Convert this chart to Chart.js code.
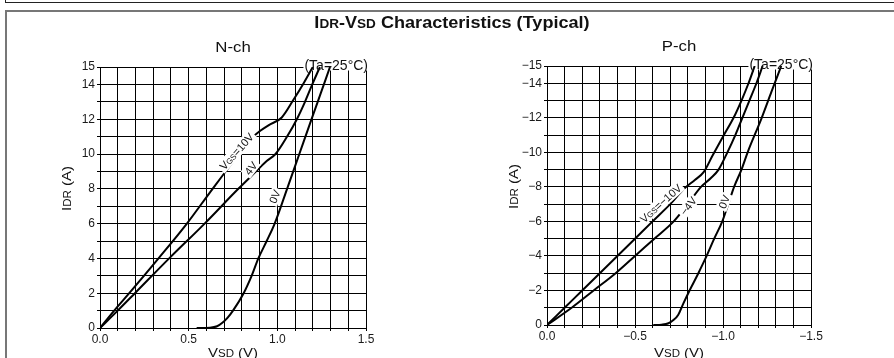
<!DOCTYPE html>
<html>
<head>
<meta charset="utf-8">
<script src="https://cdn.jsdelivr.net/npm/chart.js@4.4.1/dist/chart.umd.min.js"></script>
<style>
  body { margin: 0; background: #fff; width: 894px; height: 358px; overflow: hidden; position: relative; font-family: "Liberation Sans", Arial, sans-serif; }
  canvas { position: absolute; top: 0; }
  #nch { left: 0; }
  #pch { left: 447px; }
  .frame-top { position: absolute; left: 5px; top: -10px; right: -5px; height: 12px; border-left: 1px solid #222; border-bottom: 1px solid #222; }
  .frame { position: absolute; left: 5px; top: 10px; right: -5px; bottom: -5px; border-left: 2px solid #777; border-top: 2px solid #777; }
  #title { position: absolute; left: 5px; top: 15px; width: 894px; text-align: center; font-weight: bold; font-size: 16px; line-height: 16px; transform: scaleX(1.13); color: #111; }
  #title span { font-size: 12px; }
</style>
</head>
<body>
<div class="frame-top"></div>
<div class="frame"></div>
<canvas id="nch" width="447" height="358"></canvas>
<canvas id="pch" width="447" height="358"></canvas>
<div id="title">I<span>DR</span>-V<span>SD</span> Characteristics (Typical)</div>
<script>
const FONT = '"Liberation Sans", Arial, sans-serif';

// N-ch curves, VSD (V) vs IDR (A)
const nVsd10 = [0, 0.08, 0.165, 0.33, 0.49, 0.635, 0.785, 0.875, 0.95, 1.025, 1.09, 1.15, 1.2];
const nIdr10 = [0, 1, 2, 4, 6, 8, 10, 11.1, 11.65, 12.1, 13.1, 14.1, 15];
const nVsd4 = [0, 0.1, 0.197, 0.39, 0.59, 0.78, 0.88, 0.94, 0.99, 1.055, 1.11, 1.156, 1.197, 1.24];
const nIdr4 = [0, 1, 2, 4, 6, 8, 9, 9.6, 10, 11, 12, 13, 14, 15];
const nVsd0 = [0.545, 0.62, 0.66, 0.69, 0.72, 0.75, 0.81, 0.855, 0.893, 0.94, 0.985, 1.055, 1.124, 1.193, 1.245, 1.297];
const nIdr0 = [0, 0.02, 0.1, 0.3, 0.6, 1, 2, 3, 4, 5, 6, 8, 10, 12, 13.5, 15];

// P-ch curves
const pVsd10 = [0, -0.1, -0.2, -0.3, -0.4, -0.5, -0.6, -0.7, -0.78, -0.84, -0.89, -0.94, -1.005, -1.06, -1.105, -1.145, -1.18];
const pIdr10 = [0, -1, -2, -3, -4, -5, -6, -7, -7.9, -8.4, -8.85, -9.8, -11, -12, -13, -14, -15];
const pVsd4 = [0, -0.14, -0.265, -0.39, -0.5, -0.61, -0.72, -0.8, -0.875, -0.93, -0.975, -1.025, -1.07, -1.11, -1.15, -1.19, -1.225];
const pIdr4 = [0, -1, -2, -3, -4, -5, -6, -7, -8, -8.5, -9, -10, -11, -12, -13, -14, -15];
const pVsd0 = [-0.604, -0.65, -0.69, -0.72, -0.746, -0.775, -0.81, -0.86, -0.907, -0.95, -0.996, -1.03, -1.063, -1.105, -1.14, -1.22, -1.275, -1.331];
const pIdr0 = [0, -0.02, -0.1, -0.3, -0.6, -1.25, -2, -3, -4, -5, -6, -7, -8, -9, -10, -12, -13.5, -15];

// labelled ticks
const nXTicks = [0, 0.5, 1.0, 1.5];
const nYTicks = [0, 2, 4, 6, 8, 10, 12, 14, 15];
const pXTicks = [0, -0.5, -1.0, -1.5];
const pYTicks = [0, -2, -4, -6, -8, -10, -12, -14, -15];

// curve labels (placed in data units)
const nLabels = [
  { runs: [['V', 11], ['GS', 8], ['=10V', 11]], x: 0.77, y: 10.15, angle: -48 },
  { runs: [['4V', 11]], x: 0.85, y: 9.18, angle: -52 },
  { runs: [['0V', 11]], x: 0.985, y: 7.55, angle: -67 }
];
const pLabels = [
  { runs: [['V', 11], ['GS', 8], ['=\u221210V', 11]], x: -0.646, y: -7.05, angle: -42 },
  { runs: [['\u22124V', 11]], x: -0.803, y: -6.89, angle: -53 },
  { runs: [['0V', 11]], x: -1.006, y: -7.14, angle: -68 }
];

const pts = (xs, ys) => xs.map((x, i) => ({ x: x, y: ys[i] }));

function fmt(v, digits) {
  if (Math.abs(v) < 1e-9) return digits ? (0).toFixed(digits) : '0';
  const s = Math.abs(v).toFixed(digits);
  return v < 0 ? '\u2212' + s : s;
}
function pick(list, digits) {
  return v => list.some(t => Math.abs(t - v) < 1e-6) ? fmt(v, digits) : '';
}

function drawRuns(ctx, runs, x, y, o) {
  ctx.save();
  ctx.translate(x, y);
  ctx.rotate((o.angle || 0) * Math.PI / 180);
  ctx.scale(o.stretch || 1, 1);
  const ws = runs.map(r => { ctx.font = r[1] + 'px ' + FONT; return ctx.measureText(r[0]).width; });
  const total = ws.reduce((a, b) => a + b, 0);
  let cx = o.align === 'right' ? -total : o.align === 'left' ? 0 : -total / 2;
  const big = Math.max(...runs.map(r => r[1]));
  const cap = big * 0.72;
  const base = o.center ? cap / 2 : 0;
  if (o.bg) {
    ctx.fillStyle = '#fff';
    ctx.fillRect(cx - o.bg, base - cap - o.bg, total + 2 * o.bg, cap + 2 * o.bg);
  }
  if (!o.bgOnly) {
    ctx.fillStyle = '#111';
    ctx.textBaseline = 'alphabetic';
    runs.forEach((r, i) => {
      ctx.font = r[1] + 'px ' + FONT;
      ctx.fillText(r[0], cx, base);
      cx += ws[i];
    });
  }
  ctx.restore();
}

const TA = [['(Ta=25\u00b0C)', 14]];

const annotPlugin = {
  id: 'annot',
  beforeDatasetsDraw(chart, args, o) {
    const a = chart.chartArea;
    drawRuns(chart.ctx, TA, a.right + 2, a.top + 2.5, { align: 'right', bg: 1, bgOnly: true });
  },
  afterDatasetsDraw(chart, args, o) {
    const a = chart.chartArea, ctx = chart.ctx;
    const xs = chart.scales.x, ys = chart.scales.y;
    o.labels.forEach(l => {
      drawRuns(ctx, l.runs, xs.getPixelForValue(l.x), ys.getPixelForValue(l.y),
        { angle: l.angle, center: true, bg: 2 });
    });
    drawRuns(ctx, TA, a.right + 2, a.top + 2.5, { align: 'right' });
    drawRuns(ctx, [[o.sub, 14]], (a.left + a.right) / 2, a.top - 15, { stretch: 1.2 });
    drawRuns(ctx, [['V', 13], ['SD', 10], [' (V)', 13]], (a.left + a.right) / 2, chart.height - 1, { stretch: 1.15 });
    drawRuns(ctx, [['I', 13], ['DR', 10], [' (A)', 13]], a.left - 29, (a.top + a.bottom) / 2 - 9, { stretch: 1.15, angle: -90 });
  }
};

function makeChart(id, c) {
  const tickFont = { family: FONT, size: 12 };
  return new Chart(document.getElementById(id), {
    type: 'line',
    data: {
      datasets: c.series.map(s => ({
        data: pts(s[0], s[1]),
        borderColor: '#000',
        borderWidth: 2,
        pointRadius: 0,
        fill: false,
        cubicInterpolationMode: 'monotone'
      }))
    },
    options: {
      responsive: false,
      animation: false,
      events: [],
      layout: { padding: c.pad },
      plugins: { legend: { display: false }, tooltip: { enabled: false }, annot: c.annot },
      scales: {
        x: {
          type: 'linear', min: c.xMin, max: c.xMax, reverse: c.rev,
          afterFit: s => { s.height = c.xh; },
          ticks: { stepSize: 0.1, autoSkip: false, maxRotation: 0, padding: 1, color: '#1a1a1a', font: tickFont, callback: pick(c.xTicks, 1) },
          grid: { color: '#000', lineWidth: 1, tickLength: 3 },
          border: { color: '#000', width: 1 }
        },
        y: {
          type: 'linear', min: c.yMin, max: c.yMax, reverse: c.rev,
          afterFit: s => { s.width = 100; },
          ticks: { stepSize: 1, autoSkip: false, padding: 2, color: '#1a1a1a', font: tickFont, callback: pick(c.yTicks, 0) },
          grid: { color: '#000', lineWidth: 1, tickLength: 3 },
          border: { color: '#000', width: 1 }
        }
      }
    },
    plugins: [annotPlugin]
  });
}

makeChart('nch', {
  series: [[nVsd10, nIdr10], [nVsd4, nIdr4], [nVsd0, nIdr0]],
  xMin: 0, xMax: 1.5, yMin: 0, yMax: 15, rev: false,
  xTicks: nXTicks, yTicks: nYTicks,
  pad: { left: 0, top: 67, right: 81, bottom: 0 }, xh: 30,
  annot: { sub: 'N-ch', labels: nLabels }
});

makeChart('pch', {
  series: [[pVsd10, pIdr10], [pVsd4, pIdr4], [pVsd0, pIdr0]],
  xMin: -1.5, xMax: 0, yMin: -15, yMax: 0, rev: true,
  xTicks: pXTicks, yTicks: pYTicks,
  pad: { left: 0, top: 66, right: 83, bottom: 0 }, xh: 33,
  annot: { sub: 'P-ch', labels: pLabels }
});
</script>
</body>
</html>
